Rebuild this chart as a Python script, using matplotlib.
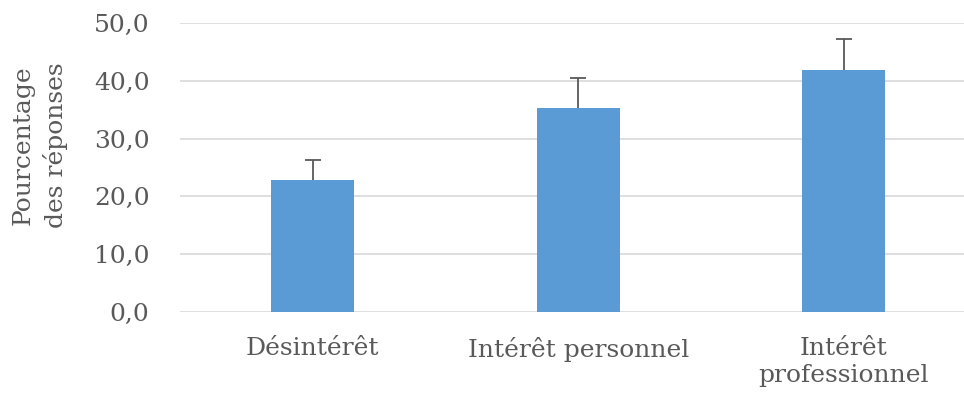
import matplotlib.pyplot as plt

# Data
categories = ["Désintérêt", "Intérêt personnel", "Intérêt\nprofessionnel"]
values = [22.8, 35.3, 41.8]
err_up = [3.5, 5.2, 5.4]
yticks = [0, 10, 20, 30, 40, 50]

text_color = "#595959"
plt.rcParams["font.family"] = ["DejaVu Serif"]

fig = plt.figure(figsize=(9.64, 3.94), dpi=100)
ax = fig.add_axes([180 / 964, 1 - 312 / 394, 796.5 / 964, 289 / 394])

x = range(len(categories))
ax.bar(x, values, width=0.313, color="#5b9bd5", zorder=2)
eb = ax.errorbar(x, values, yerr=[[0] * len(err_up), err_up], fmt="none",
                 ecolor=text_color, elinewidth=1.3, capsize=6, capthick=1.3, zorder=3)
# hide the lower caps (only upper error is shown)
eb[1][0].set_visible(False)

ax.set_xlim(-0.5, len(categories) - 0.5)
ax.set_ylim(0, 50)
ax.set_yticks(yticks)
ax.set_yticklabels([f"{v:.1f}".replace(".", ",") for v in yticks])
ax.set_xticks(list(x))
ax.set_xticklabels(categories, linespacing=1.2)

ax.grid(axis="y", color="#d9d9d9", linewidth=1.2, zorder=0)
ax.set_axisbelow(True)
for s in ax.spines.values():
    s.set_visible(False)
ax.tick_params(axis="both", length=0, colors=text_color, labelsize=18)
ax.tick_params(axis="y", pad=22)
ax.tick_params(axis="x", pad=18)

fig.text(40 / 964, 1 - 145 / 394, "Pourcentage\ndes réponses", rotation=90,
         ha="center", va="center", multialignment="center",
         fontsize=18, color=text_color, linespacing=1.45)

fig.savefig("out.png", dpi=100)
